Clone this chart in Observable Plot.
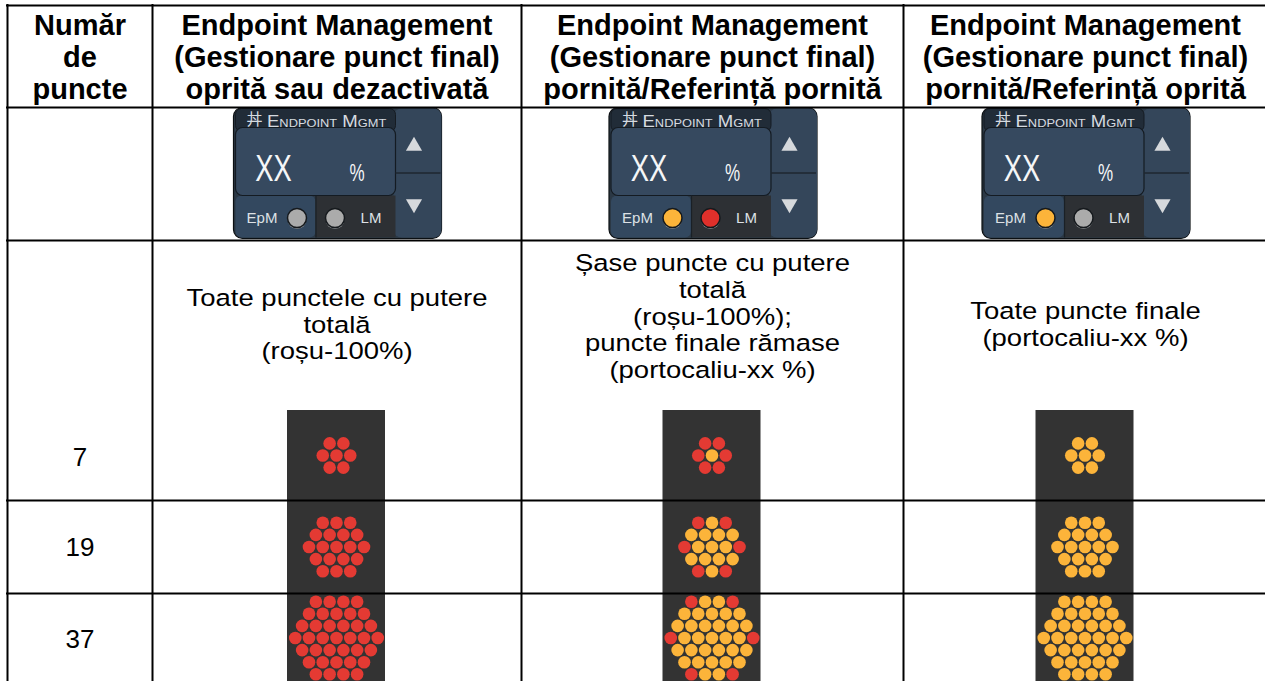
<!DOCTYPE html>
<html><head><meta charset="utf-8">
<script src="https://cdn.jsdelivr.net/npm/d3@7"></script>
<script src="https://cdn.jsdelivr.net/npm/@observablehq/plot@0.6"></script>
<style>html,body{margin:0;padding:0;background:#fff;overflow:hidden}</style>
</head><body><div id="chart"></div>
<script>
// ---------- DATA ----------
const headerLabels = [
  "Număr\nde\npuncte",
  "Endpoint Management\n(Gestionare punct final)\noprită sau dezactivată",
  "Endpoint Management\n(Gestionare punct final)\npornită/Referință pornită",
  "Endpoint Management\n(Gestionare punct final)\npornită/Referință oprită"
];
const descriptions = [
  "Toate punctele cu putere\ntotală\n(roșu-100%)",
  "Șase puncte cu putere\ntotală\n(roșu-100%);\npuncte finale rămase\n(portocaliu-xx %)",
  "Toate puncte finale\n(portocaliu-xx %)"
];
const pointCounts = ["7", "19", "37"];
const widgetIcon = "丼";
const widgetTitle = "Endpoint Mgmt";
const widgetValue = "XX";
const widgetUnit = "%";
const epmLabel = "EpM";
const lmLabel = "LM";
const epmState = ["off", "on", "on"];   // per column
const lmState = ["off", "on", "off"];   // per column
// dot patterns (rows of the hexagon): R = red (100 %), O = orange (xx %)
const patternsOff = [
  ["RR", "RRR", "RR"],
  ["RRR", "RRRR", "RRRRR", "RRRR", "RRR"],
  ["RRRR", "RRRRR", "RRRRRR", "RRRRRRR", "RRRRRR", "RRRRR", "RRRR"]
];
const patternsRefOn = [
  ["RR", "ROR", "RR"],
  ["ROR", "OOOO", "ROOOR", "OOOO", "ROR"],
  ["ROOR", "OOOOO", "OOOOOO", "ROOOOOR", "OOOOOO", "OOOOO", "ROOR"]
];
const patternsRefOff = [
  ["OO", "OOO", "OO"],
  ["OOO", "OOOO", "OOOOO", "OOOO", "OOO"],
  ["OOOO", "OOOOO", "OOOOOO", "OOOOOOO", "OOOOOO", "OOOOO", "OOOO"]
];
const columnPatterns = [patternsOff, patternsRefOn, patternsRefOff];

// ---------- LAYOUT / STYLE ----------
const W = 1265, H = 681;
const colEdges = [7, 152, 521, 903, 1267];
const hLines = [5, 107, 240, 500, 593];
const colCenter = i => (colEdges[i] + colEdges[i + 1]) / 2;
const headerY = (hLines[0] + hLines[1]) / 2;
const descY = [323.5, 315.5, 323.5];
const labelY = [457, 547, 639];
const dotRowCenter = [455, 546.5, 637.5];
const panelTop = 410, panelW = 98;
const dxDot = 13.75, dyDot = 12.1, rDot = 6.3;
const COLORS = {R: "#e43a33", O: "#fcb43a", off: "#ababab", on: "#fcb43a", lmOn: "#e0302b"};
const FONT = "'Liberation Sans', Arial, 'Noto Sans', sans-serif";
const WG = {w: 208, h: 131, top: 107.5};

// ---------- BUILD ----------
const panels = [], dots = [], wCircles = [], widgets = [];
for (let c = 1; c <= 3; c++) {
  const cx = colCenter(c) - 0.5;
  panels.push({x1: cx - panelW / 2, x2: cx + panelW / 2, y1: panelTop, y2: H + 2, fill: "#333333"});
  columnPatterns[c - 1].forEach((pat, k) => {
    const m = pat.length;
    pat.forEach((s, j) => {
      const n = s.length;
      for (let i = 0; i < n; i++) {
        dots.push({x: cx + (i - (n - 1) / 2) * dxDot, y: dotRowCenter[k] + (j - (m - 1) / 2) * dyDot, fill: COLORS[s[i]]});
      }
    });
  });
  const L = colCenter(c) + 1 - WG.w / 2, T = WG.top;
  wCircles.push({x: L + 63, y: T + 110, fill: epmState[c - 1] === "on" ? COLORS.on : COLORS.off});
  wCircles.push({x: L + 101, y: T + 110, fill: lmState[c - 1] === "on" ? COLORS.lmOn : COLORS.off});
  widgets.push({L, T});
}
const box = (x1, y1, x2, y2) => widgets.map(({L, T}) => ({x1: L + x1, x2: L + x2, y1: T + y1, y2: T + y2}));
const frames = box(0, 0, WG.w, WG.h);
const btns = box(160, 1, 208, 130);
const titleStrips = box(2, 1, 162, 24);
const displays = box(2, 20, 162, 88);
const bottomL = box(2, 88, 82, 130);
const bottomR = box(82, 88, 162, 130);
const seps = widgets.map(({L, T}) => ({x1: L + 162, x2: L + 207, y: T + 65}));

const textBase = {fill: "#000", fontFamily: FONT};
const chart = Plot.plot({
  width: W, height: H, margin: 0,
  x: {domain: [0, W], range: [0, W], axis: null},
  y: {domain: [0, H], range: [0, H], axis: null},
  color: {type: "identity"},
  style: {fontFamily: FONT, background: "#fff", overflow: "hidden"},
  marks: [
    // widgets
    Plot.rect(frames, {x1: "x1", x2: "x2", y1: "y1", y2: "y2", fill: "#2b3845", stroke: "#0b0f12", strokeWidth: 1.2, rx: 9}),
    Plot.rect(btns, {x1: "x1", x2: "x2", y1: "y1", y2: "y2", fill: "#34465a", rx: 8}),
    Plot.rect(bottomL, {x1: "x1", x2: "x2", y1: "y1", y2: "y2", fill: "#33485f", rx: 6}),
    Plot.rect(bottomR, {x1: "x1", x2: "x2", y1: "y1", y2: "y2", fill: "#2d3034"}),
    Plot.rect(titleStrips, {x1: "x1", x2: "x2", y1: "y1", y2: "y2", fill: "#212c38", stroke: "#151b22", rx: 6}),
    Plot.rect(displays, {x1: "x1", x2: "x2", y1: "y1", y2: "y2", fill: "#36495f", stroke: "#141b22", strokeWidth: 1.2, rx: 7}),
    Plot.ruleY(seps, {y: "y", x1: "x1", x2: "x2", stroke: "#1e2730", strokeWidth: 1.5}),
    Plot.ruleX(bottomR, {x: "x1", y1: "y1", y2: "y2", stroke: "#1a2026", strokeWidth: 1.2}),
    Plot.dot(widgets, {x: d => d.L + 180, y: d => d.T + 38, symbol: "triangle", r: 6, fill: "#d6d9dc"}),
    Plot.dot(widgets, {x: d => d.L + 180, y: d => d.T + 96, symbol: "triangle", r: 6, rotate: 180, fill: "#d6d9dc"}),
    Plot.dot(wCircles, {x: "x", y: d => d.y + 1.5, r: 9.5, fill: "#8a8d90"}),
    Plot.dot(wCircles, {x: "x", y: "y", r: 9.5, fill: "fill", stroke: "#15191d", strokeWidth: 1.5}),
    Plot.text(widgets, {x: d => d.L + 20.5, y: d => d.T + 12, text: () => widgetIcon, fontSize: 16, fill: "#d6dbe0", fontFamily: "'Noto Sans CJK SC', sans-serif"}),
    Plot.text(widgets, {x: d => d.L + 33, y: d => d.T + 13.5, text: () => widgetTitle, textAnchor: "start", fontSize: 16, fontVariant: "small-caps", fill: "#d6dbe0"}),
    Plot.text(widgets, {x: d => d.L + 39.5, y: d => d.T + 61.5, text: () => widgetValue, fontSize: 37, fill: "#f5f6f7"}),
    Plot.text(widgets, {x: d => d.L + 123, y: d => d.T + 66, text: () => widgetUnit, fontSize: 23, fill: "#f5f6f7"}),
    Plot.text(widgets, {x: d => d.L + 28, y: d => d.T + 110, text: () => epmLabel, fontSize: 15, fill: "#dde1e5"}),
    Plot.text(widgets, {x: d => d.L + 137, y: d => d.T + 110, text: () => lmLabel, fontSize: 15, fill: "#dde1e5"}),
    // dot panels
    Plot.rect(panels, {x1: "x1", x2: "x2", y1: "y1", y2: "y2", fill: "fill"}),
    Plot.dot(dots, {x: "x", y: "y", r: rDot, fill: "fill"}),
    // table grid
    Plot.ruleX(colEdges, {x: d => d, y1: () => hLines[0] - 1, y2: () => H + 2, stroke: "#000", strokeWidth: 2}),
    Plot.ruleY(hLines, {y: d => d, x1: () => colEdges[0] - 1, x2: () => W + 2, stroke: "#000", strokeWidth: 2}),
    // texts
    Plot.text(headerLabels, {x: (d, i) => colCenter(i), y: () => headerY, text: d => d, fontSize: 29, fontWeight: "bold", lineHeight: 1.1, ...textBase}),
    Plot.text(descriptions, {x: (d, i) => colCenter(i + 1), y: (d, i) => descY[i], text: d => d, fontSize: 23.5, lineHeight: 1.14, ...textBase}),
    Plot.text(pointCounts, {x: () => colCenter(0), y: (d, i) => labelY[i], text: d => d, fontSize: 26, ...textBase})
  ]
});
document.getElementById("chart").appendChild(chart);

// horizontal scaling of some texts around their anchor
function scaleTextX(match, s) {
  chart.querySelectorAll("text").forEach(t => {
    if (!match(t.textContent)) return;
    const tr = t.getAttribute("transform") || "";
    const x = +t.getAttribute("x") || 0, y = +t.getAttribute("y") || 0;
    t.setAttribute("transform", `${tr} translate(${x},${y}) scale(${s},1) translate(${-x},${-y})`);
  });
}
scaleTextX(s => s === widgetValue || s === widgetUnit, 0.74);
scaleTextX(s => s === widgetTitle, 1.16);
const descJoined = descriptions.map(d => d.replace(/\n/g, ""));
scaleTextX(s => descJoined.includes(s), 1.17);
</script>
</body></html>
